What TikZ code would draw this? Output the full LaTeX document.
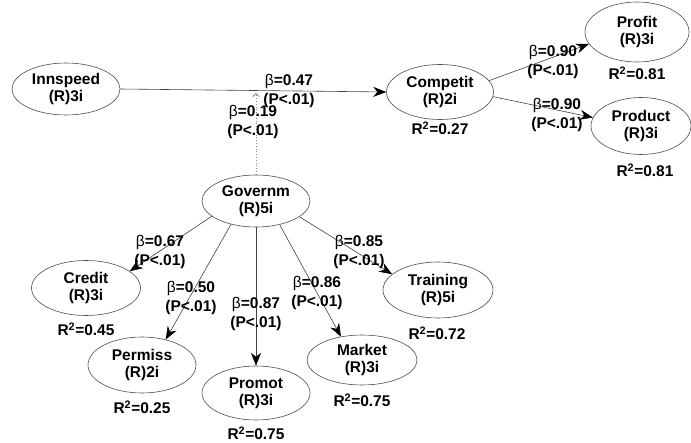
\documentclass[tikz,border=0pt]{standalone}
\usepackage{fontspec}
\setmainfont{Liberation Sans}
\usetikzlibrary{shapes.geometric,arrows.meta}
\begin{document}
\begin{tikzpicture}[x=1pt,y=-1pt,
  lv/.style={ellipse,draw=black!70,line width=0.6pt,inner sep=0pt,align=center,
    font=\bfseries\fontsize{15.5}{17}\selectfont},
  lbl/.style={inner sep=0pt,align=center,font=\bfseries\fontsize{15.5}{19}\selectfont},
  rsq/.style={inner sep=0pt,font=\bfseries\fontsize{15.5}{17}\selectfont},
  edgeline/.style={draw=black!75,line width=0.6pt,-{Stealth[length=13pt,width=10pt,black]}},
  modline/.style={draw=black!45,line width=0.8pt,dotted,-{Straight Barb[length=3pt,width=6pt]}}
]
\useasboundingbox (0,0) rectangle (691,443);

% latent variables
\node[lv,minimum width=108pt,minimum height=52pt] (inn)   at (66,89)   {Innspeed\\(R)3i};
\node[lv,minimum width=107pt,minimum height=55pt] (comp)  at (440,92)  {Competit\\(R)2i};
\node[lv,minimum width=104pt,minimum height=60pt] (prof)  at (637,32)  {Profit\\(R)3i};
\node[lv,minimum width=100pt,minimum height=57pt] (prod)  at (641,126) {Product\\(R)3i};
\node[lv,minimum width=108pt,minimum height=52pt] (gov)   at (256,201) {Governm\\(R)5i};
\node[lv,minimum width=109pt,minimum height=55pt] (cred)  at (86,288)  {Credit\\(R)3i};
\node[lv,minimum width=108pt,minimum height=56pt] (perm)  at (142,365) {Permiss\\(R)2i};
\node[lv,minimum width=108pt,minimum height=54pt] (prom)  at (256,393) {Promot\\(R)3i};
\node[lv,minimum width=110pt,minimum height=50pt] (mark)  at (362,360) {Market\\(R)3i};
\node[lv,minimum width=110pt,minimum height=56pt] (train) at (438,290) {Training\\(R)5i};

% R squared
\node[rsq] (rcomp)  at (440,128) {R\textsuperscript{2}=0.27};
\node[rsq] (rprof)  at (637,73)  {R\textsuperscript{2}=0.81};
\node[rsq] (rprod)  at (645,170) {R\textsuperscript{2}=0.81};
\node[rsq] (rcred)  at (86,329)  {R\textsuperscript{2}=0.45};
\node[rsq] (rperm)  at (142,407) {R\textsuperscript{2}=0.25};
\node[rsq] (rprom)  at (256,433) {R\textsuperscript{2}=0.75};
\node[rsq] (rmark)  at (362,400) {R\textsuperscript{2}=0.75};
\node[rsq] (rtrain) at (437,333) {R\textsuperscript{2}=0.72};

% connectors
\coordinate (mod) at (256,93);
\draw[modline] (gov.north) -- (mod);
\draw[edgeline] (inn.east) -- (comp.west);
\draw[edgeline] (comp.13) -- (prof.194);
\draw[edgeline] (comp.355) -- (prod.170);
\draw[edgeline] (gov.199) -- (cred.21);
\draw[edgeline] (gov.223) -- (perm.47);
\draw[edgeline] (gov.south) -- (prom.north);
\draw[edgeline] (gov.315) -- (mark.132);
\draw[edgeline] (gov.340) -- (train.161);

% path coefficients
\node[lbl] (b1) at (289,91)  {{\mdseries β}=0.47\\(P<.01)};
\node[lbl] (b2) at (253,122) {{\mdseries β}=0.19\\(P<.01)};
\node[lbl] (b3) at (553,62)  {{\mdseries β}=0.90\\(P<.01)};
\node[lbl] (b4) at (557,115) {{\mdseries β}=0.90\\(P<.01)};
\node[lbl] (b5) at (160,252) {{\mdseries β}=0.67\\(P<.01)};
\node[lbl] (b6) at (191,298) {{\mdseries β}=0.50\\(P<.01)};
\node[lbl] (b7) at (256,314) {{\mdseries β}=0.87\\(P<.01)};
\node[lbl] (b8) at (317,293) {{\mdseries β}=0.86\\(P<.01)};
\node[lbl] (b9) at (359,252) {{\mdseries β}=0.85\\(P<.01)};
\end{tikzpicture}
\end{document}
